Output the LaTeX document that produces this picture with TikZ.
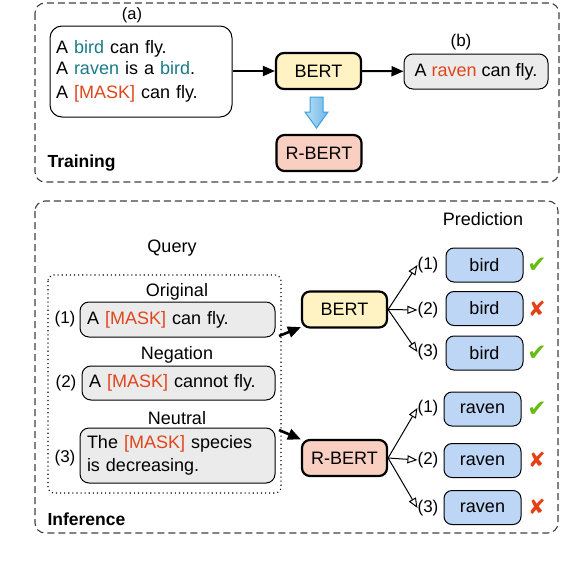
\documentclass[tikz,border=0pt]{standalone}
\usepackage{fontspec}
\setmainfont{Liberation Sans}
\newfontfamily\symfont{DejaVu Sans}
\usetikzlibrary{arrows.meta}
\definecolor{bertyellow}{RGB}{255,243,196}
\definecolor{rbertsalmon}{RGB}{249,207,194}
\definecolor{sentgray}{RGB}{235,235,235}
\definecolor{predblue}{RGB}{189,214,245}
\definecolor{tealw}{RGB}{26,122,134}
\definecolor{maskc}{RGB}{224,70,28}
\definecolor{checkgreen}{RGB}{102,187,17}
\definecolor{crossred}{RGB}{227,66,24}
\definecolor{arrblue}{RGB}{59,160,224}
\newcommand{\tw}[1]{\textcolor{tealw}{#1}}
\newcommand{\mk}[1]{\textcolor{maskc}{#1}}
\begin{document}
\begin{tikzpicture}[x=1pt,y=-1pt,
  every node/.style={font=\fontsize{18}{21}\selectfont},
  sect/.style={draw=black!75, line width=1.1pt, dash pattern=on 7pt off 4pt, rounded corners=10pt},
  sent/.style={draw, line width=1pt, fill=sentgray, rounded corners=9pt, inner xsep=7pt, inner ysep=3pt},
  model/.style={draw, line width=2.2pt, rounded corners=8pt, minimum width=85, minimum height=36},
  pred/.style={draw, line width=1pt, fill=predblue, rounded corners=8pt, minimum width=77, minimum height=34},
  num/.style={inner sep=0pt, font=\fontsize{17}{19}\selectfont},
  thickarr/.style={line width=2pt, -{Triangle[length=12pt,width=10pt]}},
  qarr/.style={line width=2.6pt, -{Triangle[length=13pt,width=11pt]}},
  predarr/.style={line width=1pt, -{Triangle[open,length=10pt,width=8pt]}},
  good/.style={text=checkgreen, font={\symfont\fontsize{23}{24}\selectfont}},
  bad/.style={text=crossred, font={\symfont\fontsize{21}{22}\selectfont}}]
\useasboundingbox (0,0) rectangle (562,570);

% ---------------- Training ----------------
\draw[sect] (35,3) rectangle (559,182);
\node (la) at (132,15) {\fontsize{16.5}{18}\selectfont (a)};
\node[draw, line width=1pt, rounded corners=12pt, minimum width=182, minimum height=91,
      text width=170, inner xsep=6pt, align=left] (inA) at (141,71.5)
  {A \tw{bird} can fly.\\[0pt]
   A \tw{raven} is a \tw{bird}.\\[3pt]
   A \mk{[MASK]} can fly.};
\node[model, fill=bertyellow] (bertT) at (318.5,71) {BERT};
\node[sent, minimum width=144, minimum height=35] (outB) at (476,71.5) {A \mk{raven} can fly.};
\node (lb) at (461,42) {\fontsize{17}{19}\selectfont (b)};
\node[model, fill=rbertsalmon] (rbertT) at (319,153) {R-BERT};
\node[anchor=west, font=\fontsize{17.5}{20}\selectfont\bfseries] (ltr) at (44,163) {Training};

\draw[thickarr] (inA.east |- bertT) -- (bertT.west);
\draw[thickarr] (bertT) -- (outB);
\path[draw=arrblue, line width=1pt, left color=arrblue!35, right color=arrblue!75]
  (310,97) -- (323,97) -- (323,112) -- (328,112) -- (316.5,128) -- (305,112) -- (310,112) -- cycle;

% ---------------- Inference ----------------
\draw[sect] (35,201) rectangle (558,533);
\node (lpred) at (483,219) {Prediction};
\node (lquery) at (172,248) {Query};
\draw[line width=1.1pt, dash pattern=on 1.1pt off 3pt, rounded corners=6pt] (48,275) rectangle (281,493);

\node (lorig) at (177,292) {Original};
\node[sent, minimum width=195, minimum height=35, text width=181, align=left] (q1) at (177.5,319.5) {A \mk{[MASK]} can fly.};
\node[num] (n1) at (65,319) {(1)};
\node (lneg) at (177,355) {Negation};
\node[sent, minimum width=193, minimum height=34, text width=179, align=left] (q2) at (178.5,383) {A \mk{[MASK]} cannot fly.};
\node[num] (n2) at (66,383) {(2)};
\node (lneu) at (177,418) {Neutral};
\node[sent, minimum width=195, minimum height=55, text width=181, align=left] (q3) at (177.5,455.5)
  {The \mk{[MASK]} species\\[2pt] is decreasing.};
\node[num] (n3) at (65,458) {(3)};
\node[anchor=west, font=\fontsize{17.5}{20}\selectfont\bfseries] (linf) at (44,519) {Inference};

\node[model, fill=bertyellow] (bertI) at (344.5,309.5) {BERT};
\node[model, fill=rbertsalmon] (rbertI) at (344.5,458) {R-BERT};
\coordinate (qa) at (279,336);
\coordinate (qb) at (279,430);
\draw[qarr] (qa) -- (bertI);
\draw[qarr] (qb) -- (rbertI);

% BERT predictions
\node[num] (b1l) at (428,265) {(1)};
\node[num] (b2l) at (428,310) {(2)};
\node[num] (b3l) at (428,352) {(3)};
\node[pred] (b1) at (484.5,265) {bird};
\node[pred] (b2) at (484.5,308.5) {bird};
\node[pred] (b3) at (484.5,353) {bird};
\node[good] (b1m) at (537,265) {✔};
\node[bad] (b2m) at (537,309) {✘};
\node[good] (b3m) at (537,353) {✔};
\draw[predarr] (bertI.east) -- (b1l.west);
\draw[predarr] (bertI.east) -- (b2l.west);
\draw[predarr] (bertI.east) -- (b3l.west);

% R-BERT predictions
\node[num] (r1l) at (428,408) {(1)};
\node[num] (r2l) at (428,460) {(2)};
\node[num] (r3l) at (428,508) {(3)};
\node[pred] (r1) at (482.5,409) {raven};
\node[pred] (r2) at (482.5,460.5) {raven};
\node[pred] (r3) at (482.5,507.5) {raven};
\node[good] (r1m) at (537,409) {✔};
\node[bad] (r2m) at (537,460) {✘};
\node[bad] (r3m) at (537,507) {✘};
\draw[predarr] (rbertI.east) -- (r1l.west);
\draw[predarr] (rbertI.east) -- (r2l.west);
\draw[predarr] (rbertI.east) -- (r3l.west);
\end{tikzpicture}
\end{document}
